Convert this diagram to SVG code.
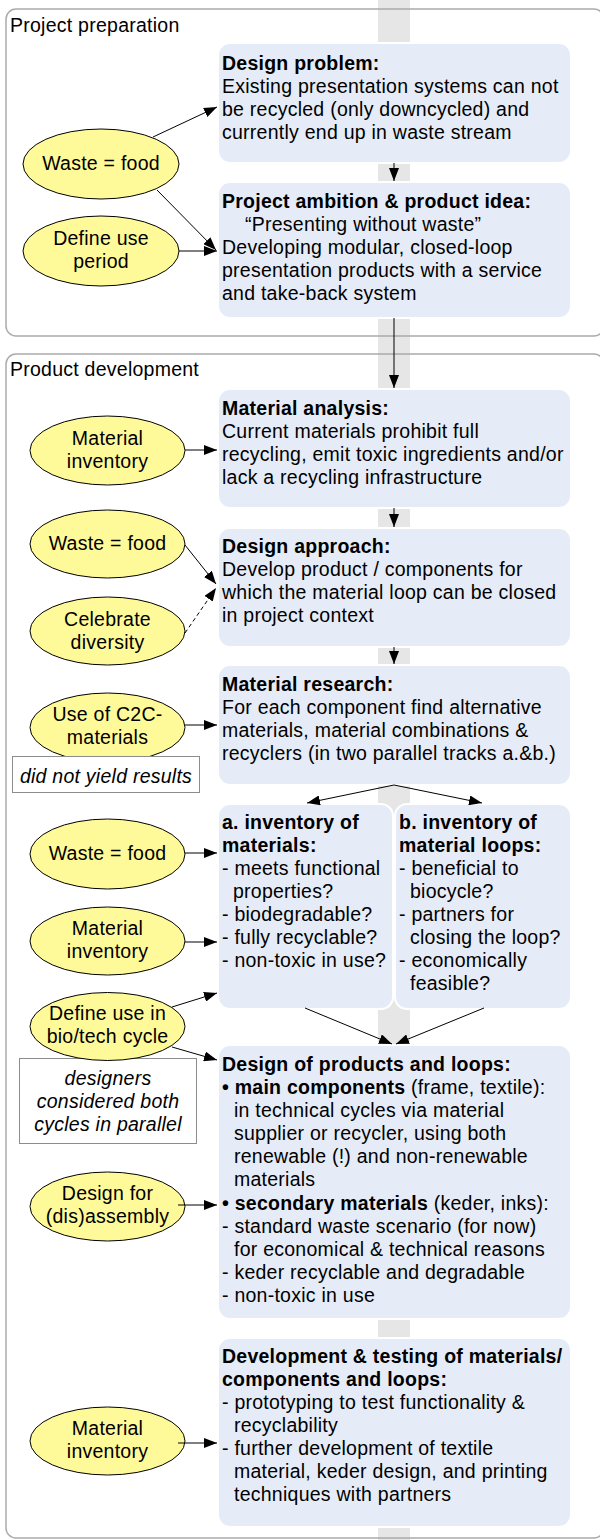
<svg xmlns="http://www.w3.org/2000/svg" width="600" height="1540" viewBox="0 0 600 1540">
  <defs>
    <style>
      .t { font-family: "Liberation Sans", Arial, sans-serif; font-size: 19.5px; letter-spacing: 0.25px; fill: #000; }
      .b { font-weight: bold; }
      .i { font-style: italic; }
      .c { text-anchor: middle; }
      .frame { fill: none; stroke: #ABABAB; stroke-width: 1.5; }
      .box { fill: #E6ECF7; stroke: #FFFFFF; stroke-width: 2; }
      .oval { fill: #FFFA99; stroke: #000; stroke-width: 1; }
      .note { fill: #FFFFFF; stroke: #8C8C8C; stroke-width: 1; }
      .edge { fill: none; stroke: #000; stroke-width: 1; marker-end: url(#arrow); }
      .dash { stroke-dasharray: 4 3; }
    </style>
    <marker id="arrow" markerUnits="userSpaceOnUse" markerWidth="14" markerHeight="10" refX="13" refY="5" orient="auto">
      <path d="M0,0 L13,5 L0,10 z" fill="#000"/>
    </marker>
  </defs>

  <rect width="600" height="1540" fill="#FFFFFF"/>

  <!-- central spine -->
  <rect id="spine" x="378" y="0" width="32" height="1540" fill="#E6E6E6"/>

  <!-- phase frames -->
  <g id="phase-preparation">
    <rect class="frame" x="6" y="9" width="598" height="327" rx="10"/>
    <text class="t" x="10" y="32">Project preparation</text>
  </g>
  <g id="phase-development">
    <rect class="frame" x="6" y="354" width="598" height="1184" rx="10"/>
    <text class="t" x="10" y="376">Product development</text>
  </g>

  <!-- process steps -->
  <g id="design-problem">
    <rect class="box" x="218" y="43" width="353" height="120" rx="12"/>
    <text class="t b" x="222" y="70">Design problem:</text>
    <text class="t" x="222" y="93">Existing presentation systems can not</text>
    <text class="t" x="222" y="116">be recycled (only downcycled) and</text>
    <text class="t" x="222" y="139">currently end up in waste stream</text>
  </g>

  <g id="project-ambition">
    <rect class="box" x="218" y="182" width="353" height="136" rx="12"/>
    <text class="t b" x="222" y="208">Project ambition &amp; product idea:</text>
    <text class="t" x="245" y="231">“Presenting without waste”</text>
    <text class="t" x="222" y="254">Developing modular, closed-loop</text>
    <text class="t" x="222" y="277">presentation products with a service</text>
    <text class="t" x="222" y="300">and take-back system</text>
  </g>

  <g id="material-analysis">
    <rect class="box" x="218" y="389" width="353" height="119" rx="12"/>
    <text class="t b" x="222" y="415">Material analysis:</text>
    <text class="t" x="222" y="438">Current materials prohibit full</text>
    <text class="t" x="222" y="461">recycling, emit toxic ingredients and/or</text>
    <text class="t" x="222" y="484">lack a recycling infrastructure</text>
  </g>

  <g id="design-approach">
    <rect class="box" x="218" y="528" width="353" height="119" rx="12"/>
    <text class="t b" x="222" y="553">Design approach:</text>
    <text class="t" x="222" y="576">Develop product / components for</text>
    <text class="t" x="222" y="599">which the material loop can be closed</text>
    <text class="t" x="222" y="622">in project context</text>
  </g>

  <g id="material-research">
    <rect class="box" x="218" y="665" width="353" height="120" rx="12"/>
    <text class="t b" x="222" y="691">Material research:</text>
    <text class="t" x="222" y="714">For each component find alternative</text>
    <text class="t" x="222" y="737">materials, material combinations &amp;</text>
    <text class="t" x="222" y="760">recyclers (in two parallel tracks a.&amp;b.)</text>
  </g>

  <g id="inventory-materials">
    <rect class="box" x="218" y="804" width="175" height="205" rx="12"/>
    <text class="t b" x="222" y="829">a. inventory of</text>
    <text class="t b" x="222" y="852">materials:</text>
    <text class="t" x="222" y="875">- meets functional</text>
    <text class="t" x="233" y="898">properties?</text>
    <text class="t" x="222" y="921">- biodegradable?</text>
    <text class="t" x="222" y="944">- fully recyclable?</text>
    <text class="t" x="222" y="967">- non-toxic in use?</text>
  </g>

  <g id="inventory-loops">
    <rect class="box" x="395" y="804" width="176" height="205" rx="12"/>
    <text class="t b" x="399" y="829">b. inventory of</text>
    <text class="t b" x="399" y="852">material loops:</text>
    <text class="t" x="399" y="875">- beneficial to</text>
    <text class="t" x="410" y="898">biocycle?</text>
    <text class="t" x="399" y="921">- partners for</text>
    <text class="t" x="410" y="944">closing the loop?</text>
    <text class="t" x="399" y="967">- economically</text>
    <text class="t" x="410" y="990">feasible?</text>
  </g>

  <g id="design-products-loops">
    <rect class="box" x="218" y="1045" width="353" height="274" rx="12"/>
    <text class="t b" x="222" y="1071">Design of products and loops:</text>
    <text class="t" x="222" y="1094"><tspan class="b">• main components</tspan> (frame, textile):</text>
    <text class="t" x="234" y="1117">in technical cycles via material</text>
    <text class="t" x="234" y="1140">supplier or recycler, using both</text>
    <text class="t" x="234" y="1163">renewable (!) and non-renewable</text>
    <text class="t" x="234" y="1186">materials</text>
    <text class="t" x="222" y="1210"><tspan class="b">• secondary materials</tspan> (keder, inks):</text>
    <text class="t" x="222" y="1233">- standard waste scenario (for now)</text>
    <text class="t" x="234" y="1256">for economical &amp; technical reasons</text>
    <text class="t" x="222" y="1279">- keder recyclable and degradable</text>
    <text class="t" x="222" y="1302">- non-toxic in use</text>
  </g>

  <g id="development-testing">
    <rect class="box" x="218" y="1338" width="353" height="189" rx="12"/>
    <text class="t b" x="222" y="1363">Development &amp; testing of materials/</text>
    <text class="t b" x="222" y="1386">components and loops:</text>
    <text class="t" x="222" y="1409">- prototyping to test functionality &amp;</text>
    <text class="t" x="234" y="1432">recyclability</text>
    <text class="t" x="222" y="1455">- further development of textile</text>
    <text class="t" x="234" y="1478">material, keder design, and printing</text>
    <text class="t" x="234" y="1501">techniques with partners</text>
  </g>

  <!-- principles -->
  <g id="p-waste-food-1">
    <ellipse class="oval" cx="101" cy="164" rx="78" ry="35"/>
    <text class="t c" x="101" y="170">Waste = food</text>
  </g>
  <g id="p-use-period">
    <ellipse class="oval" cx="101" cy="251" rx="78" ry="35"/>
    <text class="t c" x="101" y="245">Define use</text>
    <text class="t c" x="101" y="268">period</text>
  </g>
  <g id="p-material-inventory-1">
    <ellipse class="oval" cx="107.5" cy="450.5" rx="77.5" ry="34.5"/>
    <text class="t c" x="107.5" y="445">Material</text>
    <text class="t c" x="107.5" y="468">inventory</text>
  </g>
  <g id="p-waste-food-2">
    <ellipse class="oval" cx="107.5" cy="544" rx="77.5" ry="34"/>
    <text class="t c" x="107.5" y="550">Waste = food</text>
  </g>
  <g id="p-diversity">
    <ellipse class="oval" cx="107.5" cy="631" rx="77.5" ry="34"/>
    <text class="t c" x="107.5" y="626">Celebrate</text>
    <text class="t c" x="107.5" y="649">diversity</text>
  </g>
  <g id="p-c2c">
    <ellipse class="oval" cx="107.5" cy="727.5" rx="77.5" ry="34.5"/>
    <text class="t c" x="107.5" y="721">Use of C2C-</text>
    <text class="t c" x="107.5" y="744">materials</text>
  </g>
  <g id="note-c2c">
    <rect class="note" x="12.5" y="756.5" width="187" height="36"/>
    <text class="t i c" x="106" y="783">did not yield results</text>
  </g>
  <g id="p-waste-food-3">
    <ellipse class="oval" cx="107.5" cy="854" rx="77.5" ry="35"/>
    <text class="t c" x="107.5" y="860">Waste = food</text>
  </g>
  <g id="p-material-inventory-2">
    <ellipse class="oval" cx="107.5" cy="941" rx="77.5" ry="34"/>
    <text class="t c" x="107.5" y="935">Material</text>
    <text class="t c" x="107.5" y="958">inventory</text>
  </g>
  <g id="note-cycles">
    <rect class="note" x="19.5" y="1058.5" width="177" height="85"/>
    <text class="t i c" x="108" y="1085">designers</text>
    <text class="t i c" x="108" y="1108">considered both</text>
    <text class="t i c" x="108" y="1131">cycles in parallel</text>
  </g>
  <g id="p-bio-tech-cycle">
    <ellipse class="oval" cx="107.5" cy="1026.5" rx="77.5" ry="34"/>
    <text class="t c" x="107.5" y="1020">Define use in</text>
    <text class="t c" x="107.5" y="1043">bio/tech cycle</text>
  </g>
  <g id="p-disassembly">
    <ellipse class="oval" cx="107.5" cy="1206.5" rx="77.5" ry="34.5"/>
    <text class="t c" x="107.5" y="1200">Design for</text>
    <text class="t c" x="107.5" y="1223">(dis)assembly</text>
  </g>
  <g id="p-material-inventory-3">
    <ellipse class="oval" cx="107.5" cy="1441" rx="77.5" ry="34"/>
    <text class="t c" x="107.5" y="1435">Material</text>
    <text class="t c" x="107.5" y="1458">inventory</text>
  </g>

  <!-- connectors -->
  <g id="connectors">
    <line class="edge" x1="153" y1="137" x2="217" y2="107"/>
    <line class="edge" x1="157" y1="190" x2="216" y2="250"/>
    <line class="edge" x1="179" y1="251" x2="217" y2="251"/>
    <line class="edge" x1="394" y1="163" x2="394" y2="181"/>
    <line class="edge" x1="394" y1="318" x2="394" y2="388"/>
    <line class="edge" x1="185" y1="450" x2="217" y2="450"/>
    <line class="edge" x1="394" y1="508" x2="394" y2="527"/>
    <line class="edge" x1="185" y1="545" x2="216" y2="584"/>
    <line class="edge dash" x1="185" y1="633" x2="216" y2="588"/>
    <line class="edge" x1="394" y1="647" x2="394" y2="664"/>
    <line class="edge" x1="185" y1="725" x2="217" y2="725"/>
    <line class="edge" x1="394" y1="785" x2="307" y2="803"/>
    <line class="edge" x1="394" y1="785" x2="482" y2="803"/>
    <line class="edge" x1="185" y1="853" x2="217" y2="853"/>
    <line class="edge" x1="185" y1="942" x2="217" y2="942"/>
    <line class="edge" x1="172" y1="1007" x2="217" y2="993"/>
    <line class="edge" x1="172" y1="1047" x2="217" y2="1060"/>
    <line class="edge" x1="305" y1="1008" x2="392" y2="1044"/>
    <line class="edge" x1="484" y1="1008" x2="396" y2="1044"/>
    <line class="edge" x1="178" y1="1205" x2="217" y2="1205"/>
    <line class="edge" x1="178" y1="1443" x2="217" y2="1443"/>
  </g>
</svg>
